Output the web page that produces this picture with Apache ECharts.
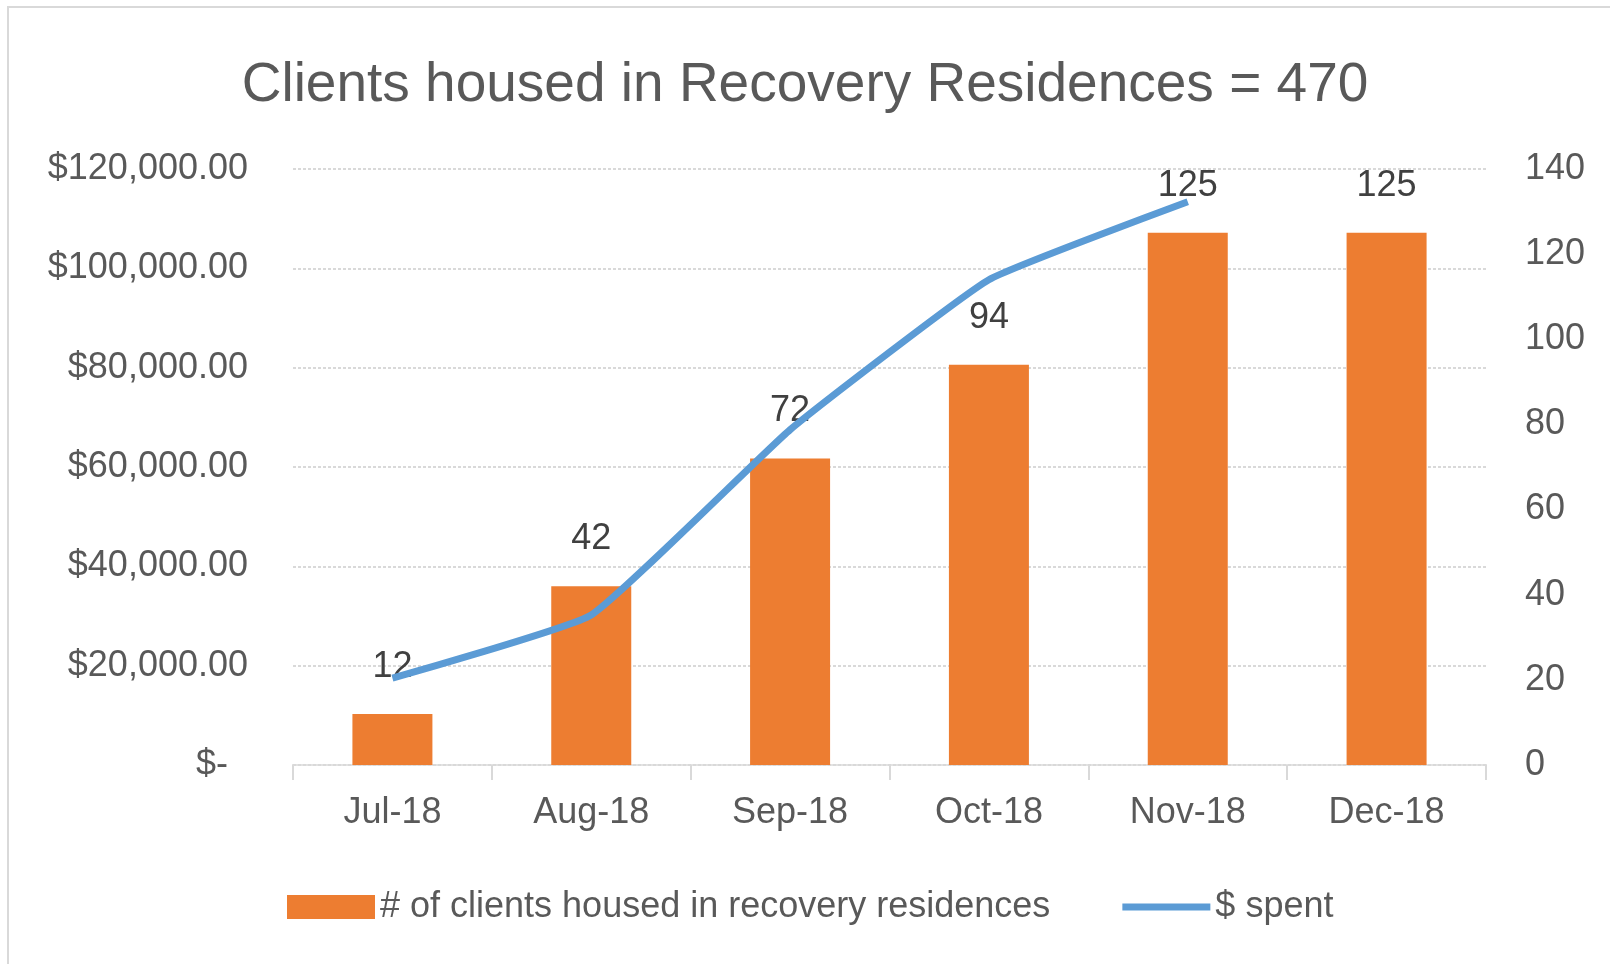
<!DOCTYPE html>
<html>
<head>
<meta charset="utf-8">
<script src="https://cdn.jsdelivr.net/npm/echarts@6/dist/echarts.min.js"></script>
<style>
  html, body { margin: 0; padding: 0; background: #fff; }
  #main { width: 1610px; height: 964px; }
</style>
</head>
<body>
<div id="main"></div>
<script>
var months = ['Jul-18', 'Aug-18', 'Sep-18', 'Oct-18', 'Nov-18', 'Dec-18'];
var clients = [12, 42, 72, 94, 125, 125];
var spent = [17500, 30200, 67500, 97700, 113400, null];
var leftTicks = ['$-  ', '$20,000.00', '$40,000.00', '$60,000.00', '$80,000.00', '$100,000.00', '$120,000.00'];
var rightTicks = ['0', '20', '40', '60', '80', '100', '120', '140'];

var font = "'Liberation Sans', Arial, sans-serif";
var grey = '#595959';
var gridGrey = '#D9D9D9';

var chart = echarts.init(document.getElementById('main'));

var option = {
  backgroundColor: '#fff',
  animation: false,
  graphic: [{
    type: 'rect',
    shape: { x: 8, y: 7, width: 1700, height: 1000 },
    style: { fill: 'none', stroke: '#D9D9D9', lineWidth: 2 },
    silent: true
  }],
  title: {
    text: 'Clients housed in Recovery Residences = 470',
    left: 'center',
    top: 53,
    textStyle: { fontFamily: font, fontSize: 55, fontWeight: 'normal', color: grey }
  },
  grid: { left: 293, right: 124, top: 169, bottom: 199 },
  legend: {
    left: 282,
    top: 884,
    itemWidth: 88,
    itemHeight: 24,
    itemGap: 72,
    textStyle: { fontFamily: font, fontSize: 36, color: grey },
    data: [
      { name: '# of clients housed in recovery residences', icon: 'rect' },
      {
        name: '$ spent',
        icon: 'path://M0,0 L88,0 L88,7 L0,7 Z',
        itemStyle: { color: '#5B9BD5' }
      }
    ]
  },
  xAxis: {
    type: 'category',
    data: months,
    axisLine: { show: true, lineStyle: { color: gridGrey, width: 2, type: [3, 2] } },
    axisTick: { show: true, length: 15, lineStyle: { color: gridGrey, width: 2 } },
    axisLabel: { fontFamily: font, fontSize: 36, color: grey, margin: 30 }
  },
  yAxis: [
    {
      type: 'value',
      min: 0,
      max: 120000,
      interval: 20000,
      position: 'left',
      axisLine: { show: false },
      axisTick: { show: false },
      axisLabel: {
        fontFamily: font, fontSize: 36, color: grey, margin: 45,
        formatter: function (v) { return leftTicks[Math.round(v / 20000)]; }
      },
      splitLine: { show: true, lineStyle: { color: gridGrey, width: 2, type: [3, 2] } }
    },
    {
      type: 'value',
      min: 0,
      max: 140,
      interval: 20,
      position: 'right',
      axisLine: { show: false },
      axisTick: { show: false },
      axisLabel: {
        fontFamily: font, fontSize: 36, color: grey, margin: 39,
        formatter: function (v) { return rightTicks[Math.round(v / 20)]; }
      },
      splitLine: { show: false }
    }
  ],
  series: [
    {
      name: '# of clients housed in recovery residences',
      type: 'bar',
      yAxisIndex: 1,
      data: clients,
      barWidth: 80,
      itemStyle: { color: '#ED7D31' },
      label: {
        show: true,
        position: 'top',
        distance: 29,
        fontFamily: font,
        fontSize: 36,
        color: '#404040'
      },
      z: 2
    },
    {
      name: '$ spent',
      type: 'line',
      yAxisIndex: 0,
      data: spent,
      smooth: 0.12,
      symbol: 'none',
      lineStyle: { color: '#5B9BD5', width: 7 },
      itemStyle: { color: '#5B9BD5' },
      z: 3
    }
  ]
};

chart.setOption(option);
</script>
</body>
</html>
